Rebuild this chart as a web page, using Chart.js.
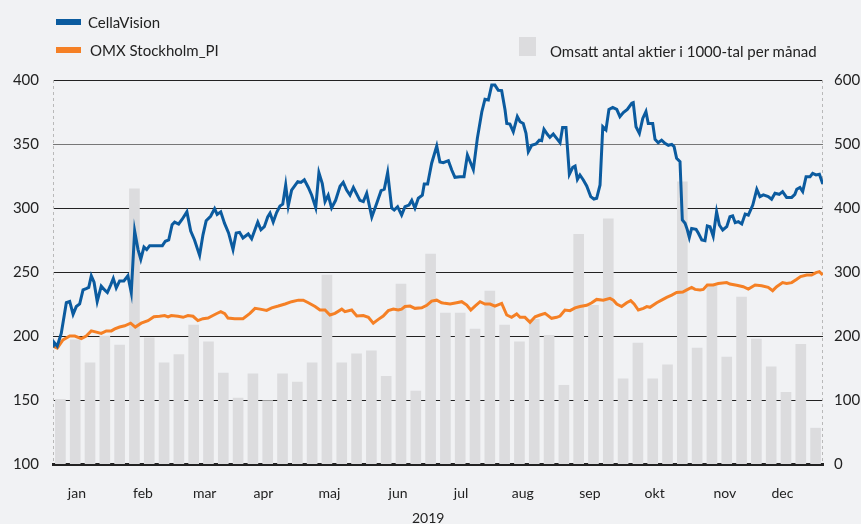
<!DOCTYPE html>
<html lang="sv">
<head>
<meta charset="utf-8">
<script src="https://cdn.jsdelivr.net/npm/chart.js@4"></script>
<style>
  html, body { margin: 0; padding: 0; background: #f1f2f4; }
  #ram { position: relative; width: 861px; height: 524px; font-family: Lato, "Open Sans", sans-serif; color: #222; }
  #graf { position: absolute; left: 0; top: 0; }
  .text { position: absolute; font-size: 15px; line-height: 18px; white-space: nowrap; }
  .ruta { position: absolute; }
</style>
</head>
<body>
<div id="ram">
  <canvas id="graf" width="861" height="524"></canvas>
  <div class="ruta" style="left:56px;top:19px;width:25px;height:6px;background:#0b5b9f"></div>
  <div class="text" style="left:88px;top:13px">CellaVision</div>
  <div class="ruta" style="left:56px;top:47px;width:25px;height:6px;background:#f58025"></div>
  <div class="text" style="left:90px;top:41px">OMX Stockholm_PI</div>
  <div class="ruta" style="left:519px;top:37px;width:17px;height:19px;background:#dcdcde"></div>
  <div class="text" style="left:550px;top:42px">Omsatt antal aktier i 1000-tal per månad</div>
  <div class="text" style="left:412px;top:509px;font-size:14px">2019</div>
</div>
<script>
// CellaVision, kurs per dag (dag räknat från årets början)
const cellaDag = [0, 0.5, 2, 3.9, 6.3, 7.9, 9.5, 11, 12.6, 14.2, 15.7, 16.9, 18.1, 19.4, 20.9, 22.8, 24.4, 25.7, 27.3, 28.5,
  29.9, 31.5, 33.5, 35.4, 37, 38.6, 40.2, 41.5, 43, 44.3, 45.7, 48.1, 51.7, 53.1, 54.7, 56.3, 57.5, 59.4, 61, 63.3,
  65.1, 66.9, 69.3, 70.9, 72.4, 74.5, 76.4, 77.6, 79.3, 81.1, 83, 85.1, 86.6, 88.2, 89.8, 92.3, 93.9, 96.8, 98.3, 99.9,
  101.5, 102.6, 104.1, 105.7, 107.3, 108.6, 110, 111.2, 112.8, 115.7, 117.2, 118.8, 120.7, 122.3, 124.2, 125.7, 127.3, 128.6, 130.1, 131.7,
  133.6, 135.7, 137.2, 138.8, 140.4, 142, 145.1, 146.7, 148.3, 150.7, 153, 155.1, 156.6, 158.2, 160.1, 161.3, 162.9, 164.8, 166.4, 168.3,
  169.6, 171.1, 172.7, 174.6, 175.5, 177.1, 179, 181.4, 182.9, 184.5, 186.9, 188.5, 190, 192.4, 194.3, 195.9, 197.5, 198.7, 200.6, 202.7,
  204.2, 205.8, 207.4, 208.9, 210.5, 212.1, 213.7, 214.5, 216, 217.6, 219.5, 220.8, 222.3, 223.6, 224.7, 226.3, 228.3, 229.9, 231, 232.1,
  233.7, 234.9, 236.5, 238.1, 239.7, 240.9, 242.5, 244.1, 245.7, 246.8, 247.9, 249.1, 250.7, 252.3, 254.2, 255.7, 257, 258.6, 259.9, 261.4,
  262.8, 264.6, 266.5, 268, 269.6, 271.5, 273.6, 274.3, 275.6, 277.2, 278.8, 280.3, 281.4, 283.5, 284.6, 286.1, 287.7, 289.3, 290.9, 292.5,
  293.6, 294.8, 296.4, 297.5, 298.8, 299.8, 300.8, 301.9, 304, 305.1, 306.7, 308.2, 309.3, 310.6, 312.1, 313.7, 315, 316.6, 318.5, 320,
  321.3, 322.5, 324, 325.6, 327.2, 328.7, 330.8, 332.7, 334.2, 335.8, 338.1, 339.7, 341.3, 343.3, 344.9, 346.8, 349.2, 350.7, 351.6, 353.1,
  354.4, 356, 357.9, 359.1, 360.7, 362.3, 363.9];
const cellaKurs = [191, 195, 192, 202, 226, 227, 217, 223, 225, 236, 237, 238, 247, 242, 227, 239, 236, 234, 240, 245,
  237.5, 243, 243, 247, 234, 282, 267.5, 260, 269.5, 267.5, 270.6, 270.6, 270.6, 274, 275, 287, 289, 287.5, 291, 297,
  282, 275, 263, 279, 290, 293.5, 299.5, 295, 297, 288, 280.5, 267.5, 280.5, 281, 276.6, 279.7, 276, 289, 283, 285.4,
  293, 296, 289, 296.4, 301.6, 303, 318, 301.6, 314, 320.6, 320, 322, 316, 310, 300.3, 327.6, 319, 305, 310, 300,
  306, 317, 320, 314, 310, 316, 306, 305, 311.5, 293, 303.6, 313.5, 314.6, 327.6, 300, 298.4, 301, 294.5, 301, 302.3,
  306, 300, 307.6, 310, 318.8, 318.8, 335, 348.4, 336, 335.4, 337, 329.7, 324, 324.5, 324.5, 341.4, 335, 330, 354.4, 375,
  385, 384.4, 396, 396, 392, 391.7, 376.6, 366, 365.6, 359.6, 371.4, 367.4, 366, 358.3, 344, 349, 350, 353, 352.6, 361.5,
  357.6, 355.2, 357.8, 354.4, 351, 362.8, 362.8, 326.3, 331.8, 332.8, 322.4, 325.8, 321.9, 317.2, 308.9, 307, 307.6, 318, 363.5, 361,
  377, 378.6, 377, 371.4, 374.5, 377, 381.8, 382.3, 363.5, 358.3, 370, 375.3, 366, 366, 353.6, 351, 353, 350.5, 349, 349.7,
  348, 338.8, 336.2, 290.6, 288, 283.3, 277, 284, 283.3, 280.2, 275, 274.5, 286, 285.4, 278, 297, 286.7, 282.8, 285.4, 293.2,
  293.8, 288.5, 289.3, 287.5, 295.3, 294.5, 302.3, 314.6, 308.9, 310.2, 308.9, 306.8, 311.5, 310.7, 312.8, 308.3, 308.3, 310.7, 314.6, 316,
  312.8, 324.5, 324.5, 327, 325.8, 326.3, 318.8];

// OMX Stockholm_PI, omräknat till samma skala
const omxDag = [0, 2, 4.7, 7.9, 10.3, 13.4, 15.7, 18.1, 20.5, 22.8, 25.2, 27.6, 29.2, 31.5, 33.9, 36.7, 38.9, 41.7, 44.9, 47.7,
  50.4, 52.8, 54.4, 55.9, 59.1, 61.5, 63.8, 66.2, 68.5, 70.9, 73.3, 75.6, 77.2, 79.3, 81.2, 82.7, 85.9, 89.8, 93.1, 95.5,
  97.9, 101, 103.4, 106.5, 109.7, 112.8, 116, 118.3, 120.7, 123.9, 126.2, 128.6, 130.9, 133.3, 136.5, 138, 141.2, 143.6, 146.7, 149.1,
  151.4, 153.8, 156.1, 158.5, 160.9, 163.2, 164.8, 166.4, 168.8, 171.1, 174.3, 176.7, 179, 181.4, 183.7, 185.3, 187.7, 190.8, 193.2, 195.6,
  197.5, 199.5, 201.9, 204.2, 206.6, 208.9, 212.1, 214.5, 216.8, 219.2, 220.8, 223.1, 225.5, 227.9, 230.2, 232.6, 235.7, 238.1, 239.7, 242,
  244.4, 246.8, 249.1, 252.3, 254.7, 257, 260.1, 263.3, 264.9, 266.5, 268.8, 271.2, 273.1, 274.7, 276.7, 279.1, 280.7, 282.2, 285.4, 287.7,
  290.1, 292.5, 294.8, 297.7, 299.6, 301.9, 303.5, 305.9, 307.4, 309.3, 312.1, 314.5, 318.5, 320, 323.2, 326.3, 328.7, 331.9, 335, 338.1,
  340.2, 342.1, 344.9, 346.8, 349.2, 351.6, 353.4, 356.3, 358.6, 360.7, 362.3, 363.9];
const omxKurs = [192, 190.6, 197, 200, 200, 198, 200, 204, 203, 202, 204, 204, 205.5, 207, 208, 210, 207, 210, 212, 215,
  215.4, 216, 215, 216, 215.4, 214.6, 216, 215.4, 212, 213.5, 214, 216, 217.4, 219, 217.4, 214, 213.5, 213.5, 217.7, 221.6,
  221, 220, 222, 223.4, 225, 226.8, 228, 228, 226, 223, 220.3, 220.3, 216.4, 217.7, 221, 219, 220.3, 215.6, 216, 214.6,
  210, 213, 215.6, 219.8, 221, 220.3, 221, 223, 223.4, 221.6, 222, 224, 227.3, 228, 226, 225.5, 225, 226, 226.8, 224.2,
  220.3, 223.4, 226.8, 225, 225, 223.4, 225.5, 216.4, 214.6, 217.2, 214.6, 214.6, 210.7, 215, 216.4, 217.7, 213.8, 214.6, 215.6, 220.3,
  219.8, 222, 223, 224, 226, 228.6, 228, 229.4, 228, 225, 223, 226, 227.6, 225, 220.3, 221.6, 223, 222.4, 226, 228,
  230.2, 232, 234, 234.4, 236, 238, 236.4, 236, 236.4, 239.8, 239.8, 241, 241.7, 240.6, 239.6, 238.5, 236.7, 239.8, 239.3, 238,
  235.4, 238.5, 241.7, 241, 241.7, 244.3, 246.4, 247.6, 247.6, 249.5, 250.3, 247.6];

// Omsatt antal aktier i 1000-tal, en stapel per vecka
const veckoVolym = [101, 194, 158, 200, 186, 430, 197, 158, 171, 217, 191, 142, 103, 141, 99, 141, 128, 158, 295, 158,
  172, 177, 137, 281, 114, 328, 236, 236, 211, 270, 217, 191, 226, 201, 123, 359, 248, 383, 133, 189,
  133, 155, 441, 181, 278, 167, 261, 195, 152, 112, 187, 56];

const manadNamn = ['jan', 'feb', 'mar', 'apr', 'maj', 'jun', 'jul', 'aug', 'sep', 'okt', 'nov', 'dec'];
const manadDag = [11.3, 42.5, 71.7, 99.5, 130.7, 163.1, 192.9, 222.1, 253.8, 284.4, 317.6, 344.8];

const bla = '#0b5b9f';
const orange = '#f58025';
const gra = '#dcdcde';
const tickFarg = '#222';

// streckade kantlinjer till vänster och höger om diagrammet
const kantlinjer = {
    id: 'kantlinjer',
    beforeDatasetsDraw(chart) {
        const { ctx, chartArea } = chart;
        ctx.save();
        ctx.strokeStyle = '#b9b9b9';
        ctx.lineWidth = 1;
        ctx.setLineDash([3, 3]);
        [chartArea.left + 0.5, chartArea.right - 0.5].forEach(x => {
            ctx.beginPath();
            ctx.moveTo(x, chartArea.top);
            ctx.lineTo(x, chartArea.bottom);
            ctx.stroke();
        });
        ctx.restore();
    }
};

const ctx = document.getElementById('graf').getContext('2d');

new Chart(ctx, {
    type: 'bar',
    data: {
        datasets: [{
            type: 'line',
            label: 'CellaVision',
            data: cellaDag.map((d, i) => ({ x: d, y: cellaKurs[i] })),
            borderColor: bla,
            borderWidth: 3,
            pointRadius: 0,
            tension: 0,
            yAxisID: 'y'
        }, {
            type: 'line',
            label: 'OMX Stockholm_PI',
            data: omxDag.map((d, i) => ({ x: d, y: omxKurs[i] })),
            borderColor: orange,
            borderWidth: 3,
            pointRadius: 0,
            tension: 0,
            yAxisID: 'y'
        }, {
            type: 'bar',
            label: 'Omsatt antal aktier i 1000-tal per månad',
            data: veckoVolym.map((v, i) => ({ x: i * 7 + 3.5, y: v })),
            backgroundColor: gra,
            barThickness: 10,
            yAxisID: 'y2'
        }]
    },
    options: {
        responsive: false,
        animation: false,
        layout: { padding: { top: 80, left: 0, right: 0, bottom: 0 } },
        plugins: {
            legend: { display: false },
            tooltip: { enabled: false }
        },
        scales: {
            x: {
                type: 'linear',
                min: 0,
                max: 364,
                offset: false,
                afterBuildTicks: function (scale) {
                    scale.ticks = manadDag.map(v => ({ value: v }));
                },
                afterFit: function (scale) { scale.height = 60; },
                ticks: {
                    autoSkip: false,
                    maxRotation: 0,
                    padding: 21,
                    color: tickFarg,
                    font: { family: 'Lato', size: 14 },
                    callback: function (value, index) { return manadNamn[index]; }
                },
                grid: { display: false, drawTicks: false },
                border: { display: true, color: '#222', width: 3 }
            },
            y: {
                position: 'left',
                min: 100,
                max: 400,
                afterFit: function (scale) { scale.width = 53; },
                ticks: {
                    stepSize: 50,
                    padding: 14,
                    color: tickFarg,
                    font: { family: 'Lato', size: 15 }
                },
                grid: {
                    drawTicks: false,
                    lineWidth: 1,
                    color: function (c) { return c.tick && c.tick.value === 350 ? '#777' : '#222'; }
                },
                border: { display: false }
            },
            y2: {
                position: 'right',
                min: 0,
                max: 600,
                afterFit: function (scale) { scale.width = 38; },
                ticks: {
                    stepSize: 100,
                    padding: 11,
                    color: tickFarg,
                    font: { family: 'Lato', size: 15 }
                },
                grid: { display: false, drawTicks: false },
                border: { display: false }
            }
        }
    },
    plugins: [kantlinjer]
});
</script>
</body>
</html>
